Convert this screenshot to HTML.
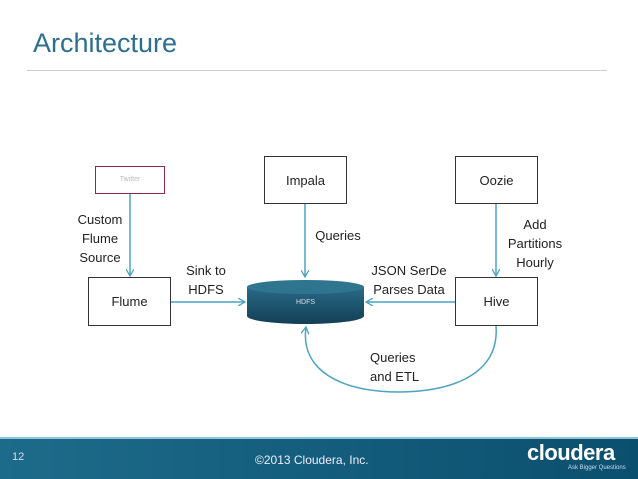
<!DOCTYPE html>
<html><head><style>
body{margin:0;width:638px;height:479px;overflow:hidden;background:#fff;font-family:"Liberation Sans",sans-serif;position:relative}
.t{position:absolute;font-size:13px;color:#222;text-align:center;line-height:17px}
</style></head><body>
<div style="position:absolute;left:33px;top:28px;font-size:27px;color:#2d6f8e">Architecture</div>
<div style="position:absolute;left:27px;top:70px;width:580px;height:1px;background:#ccc"></div>
<svg width="638" height="479" style="position:absolute;left:0;top:0">
<defs><marker id="a" markerWidth="8" markerHeight="8" refX="7" refY="4" orient="auto" markerUnits="userSpaceOnUse"><path d="M0,0 L7,4 L0,8" fill="none" stroke="#4aa3c3" stroke-width="1.3"/></marker>
<linearGradient id="c" x1="0" x2="0" y1="0" y2="1"><stop offset="0" stop-color="#2a6a86"/><stop offset="1" stop-color="#123f55"/></linearGradient>
<linearGradient id="f" x1="0" x2="1"><stop offset="0" stop-color="#1d6b8a"/><stop offset="1" stop-color="#0b4f6e"/></linearGradient></defs>
<g fill="#fff" stroke="#333" stroke-width="1">
<rect x="95.5" y="166.5" width="69" height="27" stroke="#8a2a4a"/>
<rect x="264.5" y="156.5" width="82" height="47"/>
<rect x="455.5" y="156.5" width="82" height="47"/>
<rect x="88.5" y="277.5" width="82" height="48"/>
<rect x="455.5" y="277.5" width="82" height="48"/>
</g>
<path d="M247,287 L247,316 A58.5,8 0 0 0 364,316 L364,287 Z" fill="url(#c)"/>
<ellipse cx="305.5" cy="287" rx="58.5" ry="7" fill="#2f7590"/>
<g stroke="#4aa3c3" stroke-width="1.5" fill="none" marker-end="url(#a)">
<line x1="130" y1="194" x2="130" y2="276"/>
<line x1="305" y1="204" x2="305" y2="277"/>
<line x1="496" y1="204" x2="496" y2="276"/>
<line x1="171" y1="302" x2="245" y2="302"/>
<line x1="455" y1="302" x2="366" y2="302"/>
<path d="M496,326 C500,380 440,392 400,392 C340,392 300,370 306,327"/>
</g>
<rect x="0" y="437" width="638" height="42" fill="url(#f)"/>
<rect x="0" y="437" width="638" height="2" fill="#8ec6d8"/>
</svg>
<div class="t" style="left:95px;top:175px;width:70px;font-size:7px;line-height:9px;color:#bbb">Twitter</div>
<div class="t" style="left:264px;top:172px;width:83px">Impala</div>
<div class="t" style="left:455px;top:172px;width:83px">Oozie</div>
<div class="t" style="left:88px;top:293px;width:83px">Flume</div>
<div class="t" style="left:455px;top:293px;width:83px">Hive</div>
<div class="t" style="left:247px;top:298px;width:117px;font-size:7px;line-height:9px;color:#dde">HDFS</div>
<div class="t" style="left:70px;top:210px;width:60px;line-height:19px">Custom<br>Flume<br>Source</div>
<div class="t" style="left:176px;top:261px;width:60px;line-height:19px">Sink to<br>HDFS</div>
<div class="t" style="left:308px;top:227px;width:60px">Queries</div>
<div class="t" style="left:364px;top:261px;width:90px;line-height:19px">JSON SerDe<br>Parses Data</div>
<div class="t" style="left:495px;top:215px;width:80px;line-height:19px">Add<br>Partitions<br>Hourly</div>
<div class="t" style="left:370px;top:348px;width:50px;line-height:19px;text-align:left">Queries<br>and ETL</div>
<div style="position:absolute;left:12px;top:451px;font-size:11px;color:#dde">12</div>
<div style="position:absolute;left:255px;top:453px;font-size:12px;color:#eef">©2013 Cloudera, Inc.</div>
<div style="position:absolute;left:527px;top:440px;font-size:22px;font-weight:bold;color:#fff;letter-spacing:-0.5px">cloudera</div>
<div style="position:absolute;left:568px;top:465px;font-size:6px;color:#cde">Ask Bigger Questions</div>
</body></html>
